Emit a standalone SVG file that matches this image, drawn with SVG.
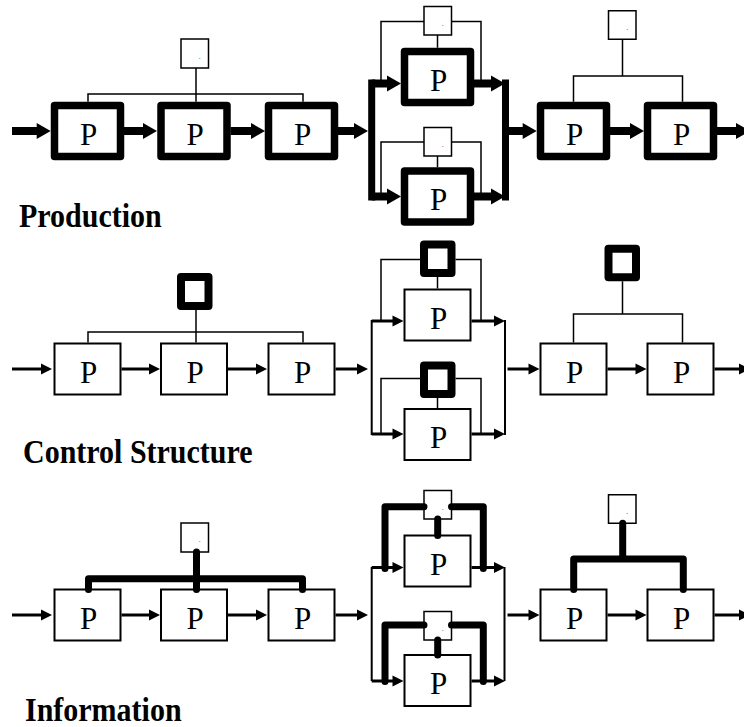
<svg xmlns="http://www.w3.org/2000/svg" width="744" height="727" viewBox="0 0 744 727">
<style>
.pk{fill:#fff;stroke:#000;stroke-width:7.5;stroke-linejoin:round}
.pt{fill:#fff;stroke:#000;stroke-width:2}
.sk{fill:#fff;stroke:#000;stroke-width:8;stroke-linejoin:round}
.st{fill:#fff;stroke:#000;stroke-width:1.5}
.p{font-family:"Liberation Serif","Times New Roman",serif;font-size:31px;text-anchor:middle;fill:#000}
.d{font-family:"Liberation Serif","Times New Roman",serif;font-size:6px;text-anchor:middle;fill:#000}
.lbl{font-family:"Liberation Serif","Times New Roman",serif;font-size:30px;font-weight:bold;fill:#000}
.tl{fill:none;stroke:#000;stroke-width:1.5}
.bt{fill:none;stroke:#000;stroke-width:2}
.bk{fill:none;stroke:#000;stroke-width:7}
.ak{stroke:#000;stroke-width:8;marker-end:url(#ahk)}
.at{stroke:#000;stroke-width:3;marker-end:url(#aht)}
.ik{fill:none;stroke:#000;stroke-width:7;stroke-linecap:round;stroke-linejoin:round}
</style>
<defs>
<marker id="ahk" markerUnits="userSpaceOnUse" markerWidth="16" markerHeight="18" refX="1" refY="8" orient="auto" overflow="visible"><path d="M0,0 L14,8 L0,16 z" fill="#000"/></marker>
<marker id="aht" markerUnits="userSpaceOnUse" markerWidth="12" markerHeight="12" refX="1" refY="5.5" orient="auto" overflow="visible"><path d="M0,0 L11,5.5 L0,11 z" fill="#000"/></marker>
</defs>
<rect width="744" height="727" fill="#fff"/>

<!-- ===== Production ===== -->
<g id="production">
<g id="prod-s1"><rect class="st" x="181" y="39" width="27.5" height="29"/><text class="d" x="199.75" y="58.5">.</text></g>
<g id="prod-s2"><rect class="st" x="424" y="6.5" width="27.5" height="28.5"/><text class="d" x="442.75" y="25.75">.</text></g>
<g id="prod-s3"><rect class="st" x="424" y="127.5" width="27.5" height="28.5"/><text class="d" x="442.75" y="146.75">.</text></g>
<g id="prod-s4"><rect class="st" x="608.5" y="10.75" width="27.5" height="28.5"/><text class="d" x="627.25" y="30">.</text></g>
<g id="prod-p1"><rect class="pk" x="54.5" y="105.5" width="66" height="51"/><text class="p" x="88.5" y="144.5">P</text></g>
<g id="prod-p2"><rect class="pk" x="161" y="105.5" width="66" height="51"/><text class="p" x="195" y="144.5">P</text></g>
<g id="prod-p3"><rect class="pk" x="268.5" y="105.5" width="66" height="51"/><text class="p" x="302.5" y="144.5">P</text></g>
<g id="prod-p4"><rect class="pk" x="404.5" y="51.5" width="66" height="51"/><text class="p" x="438.5" y="90.5">P</text></g>
<g id="prod-p5"><rect class="pk" x="404.5" y="171" width="66" height="51"/><text class="p" x="438.5" y="210">P</text></g>
<g id="prod-p6"><rect class="pk" x="540.5" y="105.5" width="66" height="51"/><text class="p" x="574.5" y="144.5">P</text></g>
<g id="prod-p7"><rect class="pk" x="647.5" y="105.5" width="66" height="51"/><text class="p" x="681.5" y="144.5">P</text></g>
<g id="prod-connectors">
<path class="tl" d="M196,68 V101.75 M88,101.75 V94 H303 V101.75"/>
<path class="tl" d="M381,80 V21.5 H424 M451.5,21.5 H481 V80 M437.5,35 V47.75"/>
<path class="tl" d="M381,193 V142 H424 M451.5,142 H481 V193 M437.5,156 V167.25"/>
<path class="tl" d="M622.5,39.25 V76 M573.5,101.75 V76 H682.5 V101.75"/>
<path class="bk" d="M371.7,79.5 V200.5 M505.5,79.5 V200.5"/>
<line class="ak" x1="12" y1="131" x2="37.7" y2="131"/>
<line class="ak" x1="124" y1="131" x2="144" y2="131"/>
<line class="ak" x1="230.5" y1="131" x2="252" y2="131"/>
<line class="ak" x1="338" y1="131" x2="355" y2="131"/>
<line class="ak" x1="371.7" y1="83.5" x2="388" y2="83.5"/>
<line class="ak" x1="371.7" y1="196.5" x2="388" y2="196.5"/>
<line class="ak" x1="474" y1="83.5" x2="492" y2="83.5"/>
<line class="ak" x1="474" y1="196.5" x2="492" y2="196.5"/>
<line class="ak" x1="505.5" y1="131" x2="523.7" y2="131"/>
<line class="ak" x1="610" y1="131" x2="631" y2="131"/>
<line class="ak" x1="717" y1="131" x2="737" y2="131"/>
</g>
<g id="label-production"><text class="lbl" transform="translate(19,227) scale(1,1.1)">Production</text></g>
</g>

<!-- ===== Control Structure ===== -->
<g id="control" transform="translate(0,238)">
<g id="ctrl-s1"><rect class="sk" x="181" y="39" width="27.5" height="29"/></g>
<g id="ctrl-s2"><rect class="sk" x="424" y="6.5" width="27.5" height="28.5"/></g>
<g id="ctrl-s3"><rect class="sk" x="424" y="127.5" width="27.5" height="28.5"/></g>
<g id="ctrl-s4"><rect class="sk" x="608.5" y="10.75" width="27.5" height="28.5"/></g>
<g id="ctrl-p1"><rect class="pt" x="54.5" y="105.5" width="66" height="51"/><text class="p" x="88.5" y="144.5">P</text></g>
<g id="ctrl-p2"><rect class="pt" x="161" y="105.5" width="66" height="51"/><text class="p" x="195" y="144.5">P</text></g>
<g id="ctrl-p3"><rect class="pt" x="268.5" y="105.5" width="66" height="51"/><text class="p" x="302.5" y="144.5">P</text></g>
<g id="ctrl-p4"><rect class="pt" x="404.5" y="51.5" width="66" height="51"/><text class="p" x="438.5" y="90.5">P</text></g>
<g id="ctrl-p5"><rect class="pt" x="404.5" y="171" width="66" height="51"/><text class="p" x="438.5" y="210">P</text></g>
<g id="ctrl-p6"><rect class="pt" x="540.5" y="105.5" width="66" height="51"/><text class="p" x="574.5" y="144.5">P</text></g>
<g id="ctrl-p7"><rect class="pt" x="647.5" y="105.5" width="66" height="51"/><text class="p" x="681.5" y="144.5">P</text></g>
<g id="ctrl-connectors">
<path class="tl" d="M196,72 V104.5 M88,104.5 V94 H303 V104.5"/>
<path class="tl" d="M381,83 V21.5 H420 M455.5,21.5 H481 V83 M437.5,39 V50.5"/>
<path class="tl" d="M381,196 V140.5 H420 M455.5,140.5 H481 V196 M437.5,160 V170"/>
<path class="tl" d="M622.5,43.25 V76 M573.5,104.5 V76 H682.5 V104.5"/>
<path class="bt" d="M371.7,82 V197 M505,82 V197"/>
<line class="at" x1="12" y1="131" x2="42" y2="131"/>
<line class="at" x1="121.5" y1="131" x2="150" y2="131"/>
<line class="at" x1="228" y1="131" x2="257" y2="131"/>
<line class="at" x1="335.5" y1="131" x2="358" y2="131"/>
<line class="at" x1="371.7" y1="83" x2="393.5" y2="83"/>
<line class="at" x1="371.7" y1="196" x2="393.5" y2="196"/>
<line class="at" x1="471.5" y1="83" x2="495" y2="83"/>
<line class="at" x1="471.5" y1="196" x2="495" y2="196"/>
<line class="at" x1="507.5" y1="131" x2="529.5" y2="131"/>
<line class="at" x1="607.5" y1="131" x2="636.5" y2="131"/>
<line class="at" x1="714.5" y1="131" x2="740" y2="131"/>
</g>
<g id="label-control"><text class="lbl" transform="translate(23,224.5) scale(1,1.1)">Control Structure</text></g>
</g>

<!-- ===== Information ===== -->
<g id="information" transform="translate(0,484)">
<g id="info-s1"><rect class="st" x="181" y="39" width="27.5" height="29"/><text class="d" x="199.75" y="58">.</text></g>
<g id="info-s2"><rect class="st" x="424" y="6.5" width="27.5" height="28.5"/><text class="d" x="442.75" y="25.75">.</text></g>
<g id="info-s3"><rect class="st" x="424" y="127.5" width="27.5" height="28.5"/><text class="d" x="442.75" y="146.75">.</text></g>
<g id="info-s4"><rect class="st" x="608.5" y="10.75" width="27.5" height="28.5"/><text class="d" x="627.25" y="30">.</text></g>
<g id="info-p1"><rect class="pt" x="54.5" y="105.5" width="66" height="51"/><text class="p" x="88.5" y="144.5">P</text></g>
<g id="info-p2"><rect class="pt" x="161" y="105.5" width="66" height="51"/><text class="p" x="195" y="144.5">P</text></g>
<g id="info-p3"><rect class="pt" x="268.5" y="105.5" width="66" height="51"/><text class="p" x="302.5" y="144.5">P</text></g>
<g id="info-p4"><rect class="pt" x="404.5" y="51.5" width="66" height="51"/><text class="p" x="438.5" y="90.5">P</text></g>
<g id="info-p5"><rect class="pt" x="404.5" y="171" width="66" height="51"/><text class="p" x="438.5" y="210">P</text></g>
<g id="info-p6"><rect class="pt" x="540.5" y="105.5" width="66" height="51"/><text class="p" x="574.5" y="144.5">P</text></g>
<g id="info-p7"><rect class="pt" x="647.5" y="105.5" width="66" height="51"/><text class="p" x="681.5" y="144.5">P</text></g>
<g id="info-connectors">
<path class="bt" d="M371.7,83 V197 M504.5,83 V197"/>
<line class="at" x1="12" y1="131" x2="42" y2="131"/>
<line class="at" x1="121.5" y1="131" x2="150" y2="131"/>
<line class="at" x1="228" y1="131" x2="257" y2="131"/>
<line class="at" x1="335.5" y1="131" x2="358" y2="131"/>
<line class="at" x1="371.7" y1="83.5" x2="393.5" y2="83.5"/>
<line class="at" x1="371.7" y1="197" x2="393.5" y2="197"/>
<line class="at" x1="471.5" y1="83.5" x2="495" y2="83.5"/>
<line class="at" x1="471.5" y1="197" x2="495" y2="197"/>
<line class="at" x1="507.5" y1="131" x2="529.5" y2="131"/>
<line class="at" x1="607.5" y1="131" x2="636.5" y2="131"/>
<line class="at" x1="714.5" y1="131" x2="740" y2="131"/>
<path class="ik" d="M196.5,68 V105.5 M88.5,105.5 V94.7 H302.5 V105.5"/>
<path class="ik" d="M385,84.5 V22.7 H424 M451.5,22.7 H483.3 V84.5 M437.7,35 V51.5"/>
<path class="ik" d="M385,197.5 V141 H424 M451.5,141 H483.3 V197.5 M437.7,156 V171"/>
<path class="ik" d="M622.7,39.25 V75 M573.7,105.5 V75 H683.3 V105.5"/>
</g>
<g id="label-information"><text class="lbl" transform="translate(25,237) scale(1,1.1)">Information</text></g>
</g>
</svg>
